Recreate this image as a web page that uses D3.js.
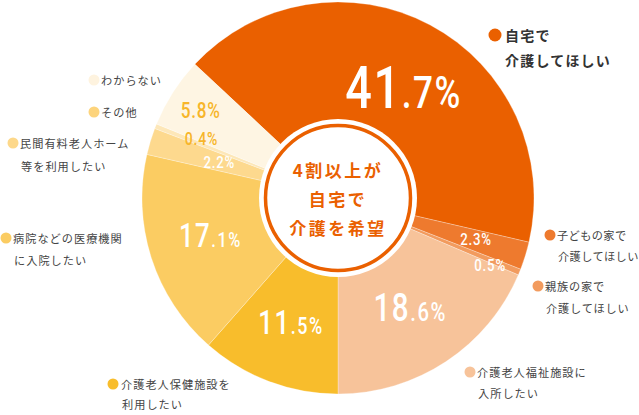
<!DOCTYPE html>
<html><head><meta charset="utf-8">
<script src="https://cdn.jsdelivr.net/npm/d3@7"></script>
<style>body{margin:0;background:#fff} svg{display:block}</style>
</head><body>
<svg id="c" width="639" height="415"></svg>
<script>
// ---- data ----
const categories = ["自宅で介護してほしい","子どもの家で介護してほしい","親族の家で介護してほしい","介護老人福祉施設に入所したい","介護老人保健施設を利用したい","病院などの医療機関に入院したい","民間有料老人ホーム等を利用したい","その他","わからない"];
const values = [41.7, 2.3, 0.5, 18.6, 11.5, 17.1, 2.2, 0.4, 5.8];
const legendLines = [["自宅で","介護してほしい"],["子どもの家で","介護してほしい"],["親族の家で","介護してほしい"],["介護老人福祉施設に","入所したい"],["介護老人保健施設を","利用したい"],["病院などの医療機関","に入院したい"],["民間有料老人ホーム","等を利用したい"],["その他"],["わからない"]];
const centerLines = ["4割以上が","自宅で","介護を希望"];

// ---- style / layout ----
const colors = ["#EA6000","#EE7A2E","#F29B5E","#F7C39A","#F8BD2C","#FBCC62","#FDD98E","#FDE7B8","#FEF5E3"];
const dotColors = ["#EA6000","#EE7A2E","#F29B5E","#F7C39A","#F8BD2C","#FBCC62","#FDD88A","#FDD47C","#FEF3DF"];
const labelColors = ["#fff","#fff","#fff","#fff","#fff","#fff","#fff","#F7B52A","#F7B52A"];
const labelR = [129,144,166,131,133,133,124,149,163];
const labelDA = [2.5,-0.5,1.4,0,0,1.5,0,2,0];
const labelBig = [60,17,17,38,33,33,17,18,22];
const labelSmall = [45,17,17,26,23,21,17,18,22];
const legendPos = [
  {dx:495,dy:35,tx:505,gap:25,main:true,ls:1.2},
  {dx:550,dy:235,tx:557,gap:21,ls:0.4},
  {dx:538,dy:286,tx:545,gap:22,ls:0.8},
  {dx:470,dy:372,tx:477,gap:21,ls:1},
  {dx:113,dy:384,tx:121,gap:20,ls:1},
  {dx:6,dy:238,tx:13,gap:22,ls:1},
  {dx:13,dy:143,tx:20,gap:23,ls:1},
  {dx:94,dy:112,tx:101,gap:0,ls:1},
  {dx:94,dy:80,tx:101,gap:0,ls:1}
];

const svg = d3.select("#c");
const cx = 338, cy = 198, R = 196;
const total = d3.sum(values);
// boundary between 介護老人福祉施設 and 介護老人保健施設 sits straight down
const startDeg = 180 - d3.sum(values.slice(0,4)) / total * 360;
const startA = startDeg * Math.PI / 180;

const pie = d3.pie().sort(null).value(d => d).startAngle(startA).endAngle(startA + 2*Math.PI);
const arcs = pie(values);
const arc = d3.arc().innerRadius(0).outerRadius(R);

const g = svg.append("g").attr("transform", `translate(${cx},${cy})`);
g.selectAll("path.slice").data(arcs).enter().append("path")
  .attr("class","slice")
  .attr("d", arc)
  .attr("fill", (d,i) => colors[i])
  .attr("stroke", "#fff").attr("stroke-opacity", 0.35).attr("stroke-width", 0.8);

// center disk
g.append("circle").attr("r", 79).attr("fill", "#fff");
g.append("circle").attr("r", 72.5).attr("fill", "#fff").attr("stroke", "#EA6000").attr("stroke-width", 3.5);
centerLines.forEach((t, i) => {
  g.append("text").attr("x", 0).attr("y", -29 + i*29)
    .attr("text-anchor", "middle").attr("dominant-baseline", "central")
    .attr("font-family", "'Noto Sans CJK JP', sans-serif").attr("font-weight", 700)
    .attr("font-size", 17).attr("letter-spacing", 2.5)
    .attr("fill", "#EA6000").text(t);
});

// value labels
arcs.forEach((d, i) => {
  const a = (d.startAngle + d.endAngle) / 2 + labelDA[i] * Math.PI / 180;
  const x = Math.sin(a) * labelR[i], y = -Math.cos(a) * labelR[i];
  const s = values[i].toFixed(1);
  const parts = s.split(".");
  const big = labelBig[i], small = labelSmall[i];
  const t = g.append("text")
    .attr("transform", `translate(${x},${y + big*0.355}) scale(0.78,1)`)
    .attr("text-anchor", "middle")
    .attr("font-family", "Roboto, 'DejaVu Sans', sans-serif").attr("font-weight", 500)
    .attr("letter-spacing", big > 30 ? 2 : 1)
    .attr("fill", labelColors[i]);
  t.append("tspan").attr("font-size", big).text(parts[0]);
  t.append("tspan").attr("font-size", small).text("." + parts[1] + "%");
});

// legends
legendPos.forEach((p, i) => {
  svg.append("circle").attr("cx", p.dx).attr("cy", p.dy).attr("r", p.main ? 6.5 : 5.5).attr("fill", dotColors[i]);
  legendLines[i].forEach((line, j) => {
    svg.append("text").attr("x", p.tx + (j>0 && !p.main ? 1 : 0)).attr("y", p.dy + j*p.gap)
      .attr("dominant-baseline", "central")
      .attr("font-family", "'Noto Sans CJK JP', sans-serif")
      .attr("font-weight", p.main ? 700 : 400)
      .attr("font-size", p.main ? 14 : 11.2)
      .attr("letter-spacing", p.ls)
      .attr("fill", p.main ? "#333" : "#444")
      .text(line);
  });
});
</script>
</body></html>
